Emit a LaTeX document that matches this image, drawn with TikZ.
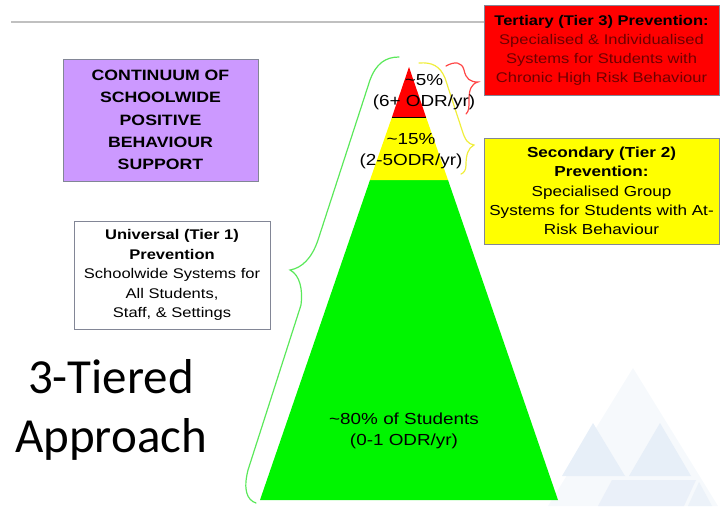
\documentclass[tikz,border=0pt]{standalone}
\usepackage{fontspec}
\setmainfont{Liberation Sans}[FakeStretch=1.18]
\newfontfamily\slidefont{Carlito}
\usetikzlibrary{calc}

\definecolor{tierred}{RGB}{255,0,0}
\definecolor{tieryellow}{RGB}{255,255,0}
\definecolor{tiergreen}{RGB}{0,245,0}
\definecolor{lavender}{RGB}{204,153,255}
\definecolor{bracegreen}{RGB}{90,232,90}
\definecolor{braceyellow}{RGB}{240,238,60}
\definecolor{bracered}{RGB}{255,70,70}
\definecolor{rulegray}{RGB}{192,192,192}
\definecolor{boxgray}{RGB}{130,134,150}
\definecolor{bgblue}{RGB}{212,226,242}
\definecolor{darkred}{RGB}{110,0,0}

\tikzset{
  infobox/.style={draw=boxgray, line width=1pt, inner sep=0pt, align=center},
  tiertext/.style={align=center, inner sep=0pt, font=\fontsize{16}{21}\selectfont},
  brace/.style={line width=1.2pt, line cap=round}
}

\begin{document}
\begin{tikzpicture}[x=1pt, y=-1pt]
			%%%%% START %%%%%
			\useasboundingbox (0, 0) rectangle (722, 506);
			
			% faint background triangles
			\fill[bgblue!22] (633, 368) -- (548, 506) -- (718, 506) -- cycle;
			\fill[bgblue!55] (593, 423) -- (562, 476) -- (625, 476) -- cycle;
			\fill[bgblue!55] (660, 423) -- (629, 476) -- (691, 476) -- cycle;
			\fill[bgblue!50] (612, 480) -- (598, 506) -- (684, 506) -- (696, 480) -- cycle;
			\fill[bgblue!45] (699, 482) -- (688, 506) -- (712, 506) -- cycle;
			
			\draw[rulegray, line width=2pt] (11, 22) -- (486, 22);
			
			% pyramid
			\coordinate (apex) at (409, 67);
			\coordinate (redl) at (392, 117);
			\coordinate (redr) at (426, 117);
			\coordinate (yell) at (370, 180);
			\coordinate (yelr) at (448, 180);
			\coordinate (basel) at (260, 500);
			\coordinate (baser) at (558, 500);
			\fill[tiergreen] (yell) -- (yelr) -- (baser) -- (basel) -- cycle;
			\fill[tieryellow] (redl) -- (redr) -- (yelr) -- (yell) -- cycle;
			\fill[tierred] (apex) -- (redr) -- (redl) -- cycle;
			\draw[line width=0.8pt] (redl) -- (redr);
			
			% braces
			\draw[brace, bracegreen] (399, 57) .. controls (385, 57) and (376, 64) .. (370, 80) -- (318, 240) .. controls (312, 258) and (302, 268) .. (290, 270) .. controls (300, 275) and (303, 290) .. (301, 305) -- (248, 470) .. controls (243, 490) and (247, 500) .. (256, 503);
			\draw[brace, braceyellow] (419, 63) .. controls (432, 62) and (440, 66) .. (445, 78) -- (462, 130) .. controls (465, 140) and (468, 144) .. (474, 145) .. controls (468, 148) and (466, 155) .. (466, 165) .. controls (466, 170) and (464, 173) .. (461, 174);
			\draw[brace, bracered] (446, 66) .. controls (455, 61) and (462, 62) .. (464, 70) .. controls (466, 79) and (470, 82) .. (478, 82) .. controls (471, 84) and (469, 90) .. (469, 100) .. controls (469, 108) and (469, 111) .. (466, 114);
			
			% tier labels
			\node[tiertext] (tierthree) at (424, 92) {\textasciitilde5\%\\(6+ ODR/yr)};
			\node[tiertext] (tiertwo) at (411, 151) {\textasciitilde15\%\\(2-5ODR/yr)};
			\node[tiertext] (tierone) at (404, 431) {\textasciitilde80\% of Students\\(0-1 ODR/yr)};
			
			% boxes
			\node[infobox, fill=tierred, minimum width=235, minimum height=90,
			      font=\fontsize{14}{19}\selectfont] (tertiary) at (601.5, 50)
			      {\textbf{Tertiary (Tier 3) Prevention:}\\
			       \textcolor{darkred}{Specialised \& Individualised}\\
			       \textcolor{darkred}{Systems for Students with}\\
			       \textcolor{darkred}{Chronic High Risk Behaviour}};
			\node[infobox, fill=tieryellow, minimum width=235, minimum height=106,
			      font=\fontsize{14.5}{19.2}\selectfont] (secondary) at (601.5, 191)
			      {\textbf{Secondary (Tier 2)}\\ \textbf{Prevention:}\\ Specialised Group\\
			       Systems for Students with At-\\ Risk Behaviour};
			\node[infobox, fill=lavender, minimum width=195, minimum height=122,
			      font=\fontsize{15}{22.2}\selectfont\bfseries] (continuum) at (160.5, 120)
			      {CONTINUUM OF\\ SCHOOLWIDE\\ POSITIVE\\ BEHAVIOUR\\ SUPPORT};
			\node[infobox, fill=white, minimum width=196, minimum height=108,
			      font=\fontsize{14}{19.6}\selectfont] (universal) at (172, 275)
			      {\textbf{Universal (Tier 1)}\\ \textbf{Prevention}\\ Schoolwide Systems for\\
			       All Students,\\ Staff, \& Settings};
			
			\node[align=center, inner sep=0pt, font=\slidefont\fontsize{49}{59}\selectfont] (approach) at (111, 410)
			      {3-Tiered\\Approach};
			%%%%% END %%%%%
\end{tikzpicture}
\end{document}
